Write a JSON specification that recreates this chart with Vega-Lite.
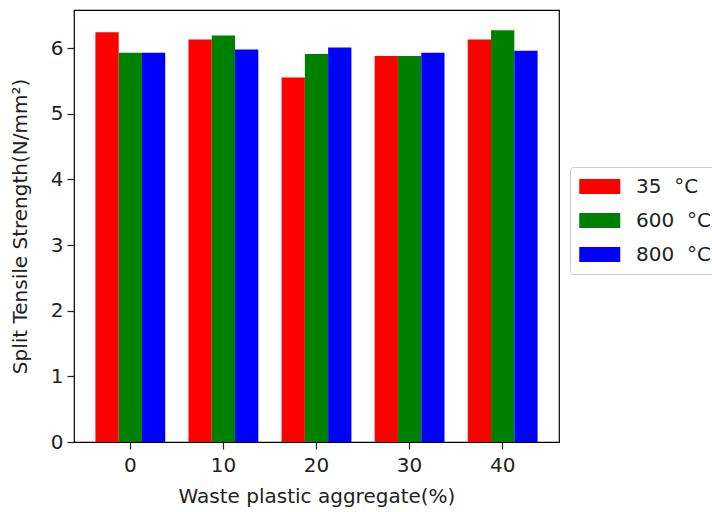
{
  "$schema": "https://vega.github.io/schema/vega-lite/v6.json",
  "width": 485,
  "height": 432,
  "autosize": {"type": "none"},
  "padding": {"left": 74, "top": 10, "right": 153, "bottom": 70},
  "background": "white",
  "config": {
    "font": "DejaVu Sans",
    "view": {"stroke": "black", "strokeWidth": 1.2},
    "axis": {"labelFont": "DejaVu Sans", "titleFont": "DejaVu Sans", "labelColor": "#222", "titleColor": "#222", "titleFontWeight": "normal", "domain": false, "tickColor": "#222", "tickSize": 7, "tickWidth": 1.2, "grid": false}
  },
  "data": {
    "values": [
      {"agg": "0", "temp": "35 \u00a0°C", "v": 6.24},
      {"agg": "0", "temp": "600 \u00a0°C", "v": 5.93},
      {"agg": "0", "temp": "800 \u00a0°C", "v": 5.93},
      {"agg": "10", "temp": "35 \u00a0°C", "v": 6.13},
      {"agg": "10", "temp": "600 \u00a0°C", "v": 6.19},
      {"agg": "10", "temp": "800 \u00a0°C", "v": 5.98},
      {"agg": "20", "temp": "35 \u00a0°C", "v": 5.55},
      {"agg": "20", "temp": "600 \u00a0°C", "v": 5.91},
      {"agg": "20", "temp": "800 \u00a0°C", "v": 6.01},
      {"agg": "30", "temp": "35 \u00a0°C", "v": 5.88},
      {"agg": "30", "temp": "600 \u00a0°C", "v": 5.88},
      {"agg": "30", "temp": "800 \u00a0°C", "v": 5.93},
      {"agg": "40", "temp": "35 \u00a0°C", "v": 6.13},
      {"agg": "40", "temp": "600 \u00a0°C", "v": 6.27},
      {"agg": "40", "temp": "800 \u00a0°C", "v": 5.96}
    ]
  },
  "mark": {"type": "bar"},
  "encoding": {
    "x": {
      "field": "agg", "type": "nominal", "sort": ["0", "10", "20", "30", "40"],
      "scale": {"paddingInner": 0.25, "paddingOuter": 0.23},
      "axis": {"title": "Waste plastic aggregate(%)", "labelAngle": 0, "labelFontSize": 20, "titleFontSize": 20, "labelPadding": 6, "titlePadding": 11}
    },
    "xOffset": {"field": "temp", "type": "nominal", "sort": ["35 \u00a0°C", "600 \u00a0°C", "800 \u00a0°C"]},
    "y": {
      "field": "v", "type": "quantitative",
      "scale": {"domain": [0, 6.58], "nice": false},
      "axis": {"title": "Split Tensile Strength(N/mm²)", "values": [0, 1, 2, 3, 4, 5, 6], "labelFontSize": 20, "titleFontSize": 20, "labelPadding": 4, "titlePadding": 20}
    },
    "color": {
      "field": "temp", "type": "nominal", "sort": ["35 \u00a0°C", "600 \u00a0°C", "800 \u00a0°C"],
      "scale": {"range": ["#ff0000", "#008000", "#0000ff"]},
      "legend": {
        "title": null, "orient": "none", "legendX": 496, "legendY": 157,
        "symbolType": "M-1,-0.72L3,-0.72L3,0.72L-1,0.72Z", "symbolSize": 420,
        "symbolStrokeWidth": 0, "symbolOpacity": 1,
        "labelFontSize": 20, "labelColor": "#222", "labelOffset": 36,
        "rowPadding": 13, "padding": 9, "strokeColor": "#ccc", "cornerRadius": 3, "fillColor": "white"
      }
    }
  }
}
